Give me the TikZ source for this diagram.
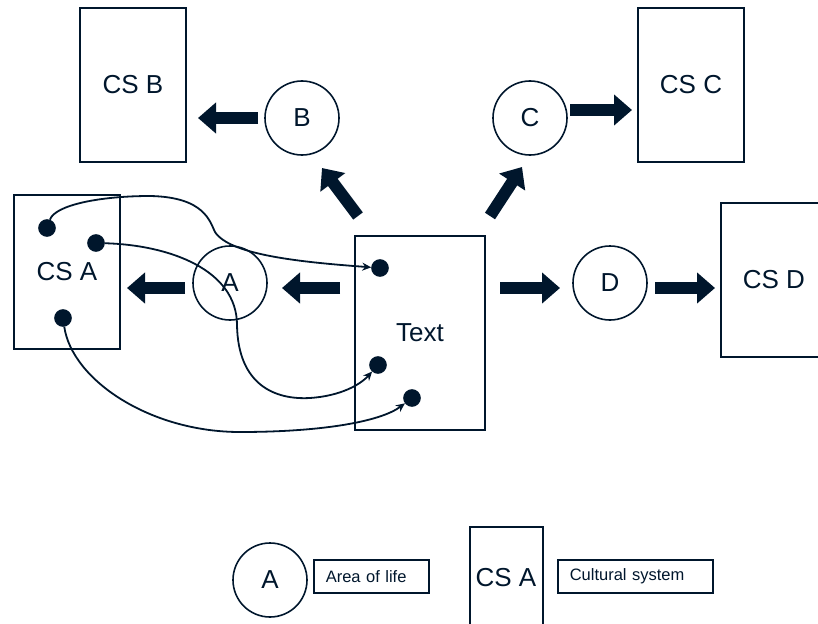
\documentclass[tikz,border=0pt]{standalone}
\usepackage{fontspec}
\setmainfont{Liberation Sans}
\usetikzlibrary{positioning, arrows.meta}
\definecolor{ink}{RGB}{0,22,44}

\begin{document}
\begin{tikzpicture}[
      x=1pt, y=-1pt,
      every node/.style={draw=ink, text=ink, line width=1.6pt, inner sep=0pt, font=\fontsize{26}{28}\selectfont},
      area/.style={circle, minimum size=74pt},
      csbox/.style={rectangle, minimum width=106pt, minimum height=154pt},
      tag/.style={rectangle, minimum height=33pt, align=left, text width=#1, inner xsep=12pt, font=\fontsize{16.5}{18}\selectfont},
      dot/.style={circle, fill=ink, minimum size=16pt},
      fat/.style={draw=ink, line width=12pt, -{Triangle[length=18pt, width=30pt]}},
      link/.style={draw=ink, line width=1.8pt, -{Stealth[length=9pt, width=8pt]}}
    ]
      \useasboundingbox (0,0) rectangle (818,623);
      % cultural systems
      \node[csbox] (csb) at (133,85) {CS B};
      \node[csbox] (csc) at (691,85) {CS C};
      \node[csbox] (csa) at (67,272) {CS A};
      \node[csbox, minimum width=120pt, anchor=west] (csd) at (720,280) {\hspace*{-14pt}CS D};
      \node[rectangle, minimum width=130pt, minimum height=194pt] (txt) at (420,333) {Text};
      % areas of life
      \node[area] (b) at (302,118) {B};
      \node[area] (c) at (530,118) {C};
      \node[area] (a) at (230,283) {A};
      \node[area] (d) at (610,283) {D};
      % big arrows
      \draw[fat] (258,118) -- (198,118);
      \draw[fat] (570,110) -- (632,110);
      \draw[fat] (340,288) -- (282,288);
      \draw[fat] (185,288) -- (127,288);
      \draw[fat] (358,216) -- (322,168);
      \draw[fat] (490,216) -- (522,167);
      \draw[fat] (500,288) -- (560,288);
      \draw[fat] (655,288) -- (715,288);
      % dots
      \node[dot] (a1) at (47,228) {};
      \node[dot] (a2) at (96,243) {};
      \node[dot] (a3) at (63,318) {};
      \node[dot] (t1) at (380,268) {};
      \node[dot] (t2) at (378,365) {};
      \node[dot] (t3) at (412,398) {};
      % links
      \draw[link] (a1) .. controls (55,205) and (100,196) .. (150,196)
        .. controls (205,197) and (210,222) .. (215,232)
        .. controls (230,255) and (300,262) .. (t1);
      \draw[link] (a2) .. controls (170,245) and (237,270) .. (237,325)
        .. controls (238,385) and (275,400) .. (310,398)
        .. controls (340,396) and (360,385) .. (t2);
      \draw[link] (a3) .. controls (72,380) and (150,432) .. (240,432)
        .. controls (320,432) and (380,422) .. (t3);
      % legend
      \node[area] (la) at (270,580) {A};
      \node[tag=91pt, anchor=west] (lat) at (313,576.5) {Area of life};
      \draw[draw=ink, line width=1.6pt] (470,640) |- (543,527) -- (543,640);
      \node[draw=none] (lcs) at (506,578) {CS A};
      \node[tag=131pt, anchor=west] (lct) at (557,576.5) {Cultural system};
    \end{tikzpicture}
\end{document}
